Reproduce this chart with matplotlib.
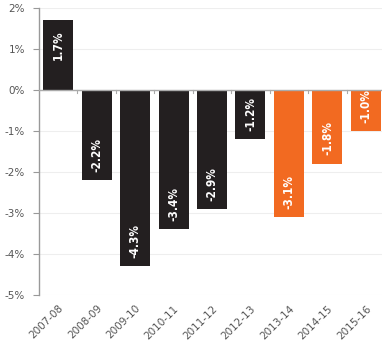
import matplotlib.pyplot as plt

# Annual change by financial year, in percent
years = ['2007-08', '2008-09', '2009-10', '2010-11', '2011-12',
         '2012-13', '2013-14', '2014-15', '2015-16']
values = [1.7, -2.2, -4.3, -3.4, -2.9, -1.2, -3.1, -1.8, -1.0]
projected = [False, False, False, False, False, False, True, True, True]

DARK = '#231f20'
ORANGE = '#f26a21'
colors = [ORANGE if p else DARK for p in projected]

plt.rcParams['font.family'] = ['DejaVu Sans']

fig = plt.figure(figsize=(3.82, 3.47), dpi=100)
ax = fig.add_axes([0.102, 0.150, 0.898, 0.827])

x = list(range(len(years)))
ax.bar(x, values, width=0.78, color=colors, zorder=3)

ax.set_xlim(-0.5, 8.42)
ax.set_ylim(-5, 2)

# light gridlines and the zero line
ax.set_yticks(range(-5, 3))
ax.set_yticklabels([f'{v}%' for v in range(-5, 3)])
ax.grid(axis='y', color='#eeeeee', linewidth=0.8, zorder=0)
ax.axhline(0, color='#aaaaaa', linewidth=1.0, zorder=4)

# small marks on the zero line between categories
for b in [i + 0.5 for i in x[:-1]]:
    ax.plot([b, b], [0, -0.08], color='#aaaaaa', linewidth=0.8, zorder=4)

# value labels written inside each bar, near its end
for xi, v in zip(x, values):
    off = -7 if v > 0 else 6
    ax.annotate(f'{v:.1f}%', xy=(xi, v), xytext=(0, off), textcoords='offset points',
                rotation=90, ha='center', va='top' if v > 0 else 'bottom',
                color='white', fontsize=8.5, fontweight='bold',
                fontstretch='condensed', zorder=5)

ax.set_xticks(x)
ax.set_xticklabels(years, rotation=45, ha='right', rotation_mode='anchor')
ax.tick_params(axis='x', length=0, pad=6, labelsize=7.5, labelcolor='#555555')
ax.tick_params(axis='y', length=4, color='#999999', pad=6, labelsize=7.5,
               labelcolor='#555555')

for side in ['top', 'right', 'bottom']:
    ax.spines[side].set_visible(False)
ax.spines['left'].set_color('#999999')
ax.spines['left'].set_linewidth(1.0)

fig.savefig('out.png', dpi=100)
